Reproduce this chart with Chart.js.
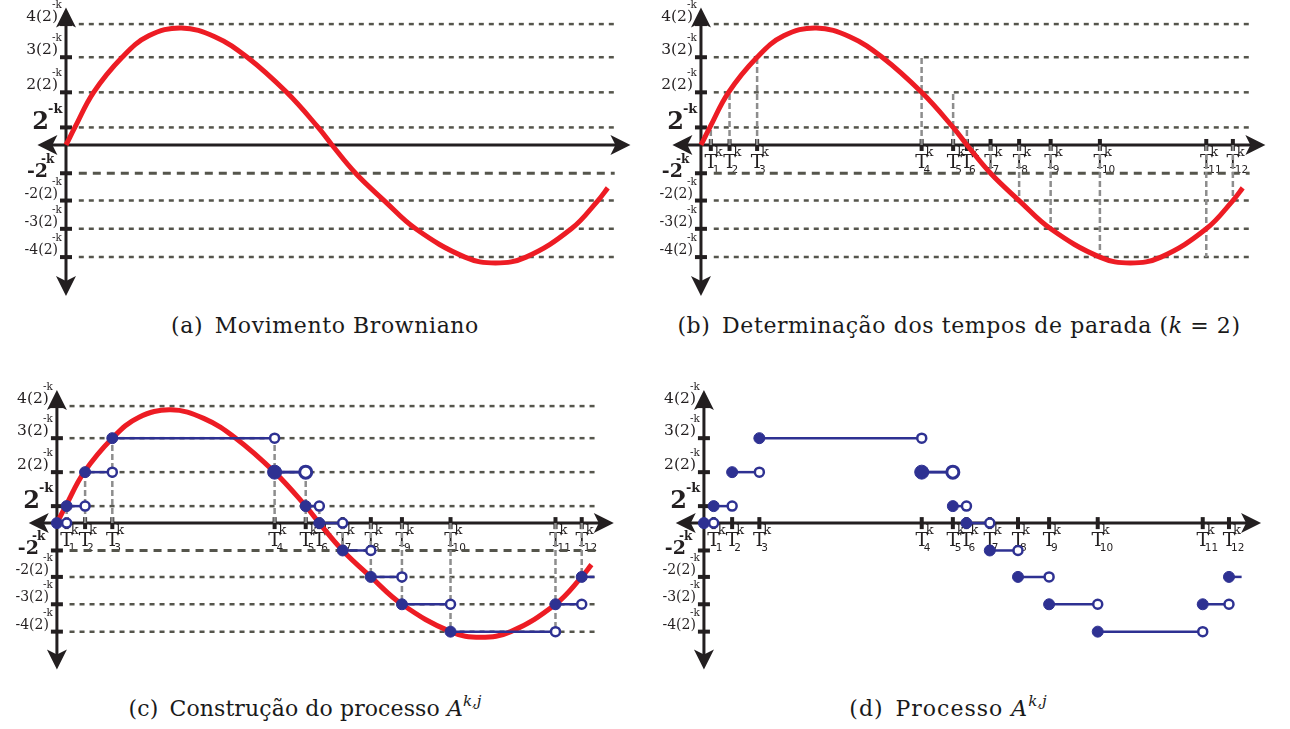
<!DOCTYPE html>
<html lang="pt">
<head>
<meta charset="UTF-8">
<title>Processo A k,j</title>
<script src="https://cdn.jsdelivr.net/npm/chart.js"></script>
<style>
    * { margin: 0; padding: 0; box-sizing: border-box; }
    body {
        width: 1290px;
        height: 729px;
        background: #fff;
        position: relative;
        overflow: hidden;
        font-family: 'DejaVu Serif', serif;
    }
    canvas { position: absolute; }
    .caption {
        position: absolute;
        font-size: 22px;
        letter-spacing: 0.6px;
        color: #1a1a1a;
        white-space: nowrap;
        transform: translateX(-50%);
    }
    .caption sup { font-size: 15px; vertical-align: 10px; line-height: 0; letter-spacing: 0; }
</style>
</head>
<body>
<canvas id="chartA" width="640" height="300" style="left:0;top:0"></canvas>
<canvas id="chartB" width="650" height="300" style="left:640px;top:0"></canvas>
<canvas id="chartC" width="640" height="320" style="left:0;top:370px"></canvas>
<canvas id="chartD" width="650" height="320" style="left:640px;top:370px"></canvas>

<div class="caption" style="left:325px;top:313px">(a)&ensp;Movimento Browniano</div>
<div class="caption" style="left:959px;top:313px">(b)&ensp;Determinação dos tempos de parada (<i>k</i> = 2)</div>
<div class="caption" style="left:305px;top:696px;letter-spacing:0.1px">(c)&ensp;Construção do processo <i>A</i><sup><i>k,j</i></sup></div>
<div class="caption" style="left:948px;top:696px;letter-spacing:1px">(d)&ensp;Processo <i>A</i><sup><i>k,j</i></sup></div>

<script>
// stopping times T_1..T_12 (time units)
const tTimes = [0.10, 0.29, 0.57, 2.24, 2.56, 2.70, 2.94, 3.23, 3.55, 4.05, 5.13, 5.40];
const tNames = ['1', '2', '3', '4', '5', '6', '7', '8', '9', '10', '11', '12'];

// levels (multiples of 2^-k) and the height at which each one is drawn
const levelMultiples = [4, 3, 2, 1, -1, -2, -3, -4];
const levelHeights = [1.24, 0.90, 0.54, 0.18, -0.29, -0.57, -0.86, -1.15];

// brownian path (red curve)
const curveT = [0, 0.09, 0.28, 0.57, 0.84, 1.17, 1.51, 1.84, 2.24, 2.56, 2.70, 2.94, 3.23, 3.55, 4.05, 4.36, 4.67, 5.13, 5.40, 5.50];
const curveY = [0, 0.18, 0.54, 0.90, 1.12, 1.20, 1.11, 0.90, 0.54, 0.18, 0, -0.29, -0.57, -0.86, -1.15, -1.21, -1.15, -0.86, -0.57, -0.44];

// value of A^{k,j} on [T_n, T_{n+1}) , n = 0..12
const stepLevels = [0, 1, 2, 3, 2, 1, 0, -1, -2, -3, -4, -3, -2];
// how far the gray dashed line at each T_n reaches
const stopReach = [1, 2, 3, 3, 2, 1, -1, -2, -3, -4, -4, -2];

const RED = '#ed1c24';
const BLUE = '#2e3192';
const INK = '#231f20';
const SERIF = "'DejaVu Serif', serif";
const SANS = "'DejaVu Sans', sans-serif";

function heightOf(m) {
    return m === 0 ? 0 : levelHeights[levelMultiples.indexOf(m)];
}

function arrow(ctx, x, y, dx, dy) {
    const L = 20, W = 10, N = 15;
    const bx = x - dx * L, by = y - dy * L;
    const px = -dy, py = dx;
    ctx.beginPath();
    ctx.moveTo(x, y);
    ctx.lineTo(bx + px * W, by + py * W);
    ctx.lineTo(x - dx * N, y - dy * N);
    ctx.lineTo(bx - px * W, by - py * W);
    ctx.closePath();
    ctx.fill();
}

function yLabel(ctx, m, x0, py) {
    ctx.textAlign = 'left';
    if (m === 1) {
        ctx.font = 'bold 24px ' + SERIF;
        const w = ctx.measureText('2').width;
        ctx.fillText('2', x0 - 17 - w, py + 2);
        ctx.font = 'bold 13px ' + SERIF;
        ctx.fillText('-k', x0 - 18, py - 14);
    } else if (m === -1) {
        ctx.font = 'bold 19px ' + SERIF;
        const w = ctx.measureText('-2').width;
        ctx.fillText('-2', x0 - 18 - w, py + 4);
        ctx.font = 'bold 12px ' + SERIF;
        ctx.fillText('-k', x0 - 25, py - 10);
    } else {
        const txt = m + '(2)';
        ctx.font = (m > 0 ? '15.5px ' : '14px ') + SERIF;
        const w = ctx.measureText(txt).width;
        const right = x0 - 8;
        ctx.fillText(txt, right - w, py - 3);
        ctx.font = '10.5px ' + SERIF;
        ctx.fillText('-k', right - 6, py - 16);
    }
}

const axesPlugin = {
    id: 'arrowAxes',
    beforeDatasetsDraw(chart, args, opts) {
        const ctx = chart.ctx;
        const xs = chart.scales.x, ys = chart.scales.y;
        const x0 = xs.getPixelForValue(0), y0 = ys.getPixelForValue(0);
        const xl = xs.getPixelForValue(-0.29), xr = xs.getPixelForValue(5.73);
        const yt = ys.getPixelForValue(1.41), yb = ys.getPixelForValue(-1.55);
        ctx.save();
        ctx.strokeStyle = INK;
        ctx.fillStyle = INK;
        ctx.lineWidth = 3;
        ctx.beginPath();
        ctx.moveTo(xl + 10, y0); ctx.lineTo(xr - 10, y0);
        ctx.moveTo(x0, yt + 10); ctx.lineTo(x0, yb - 10);
        ctx.stroke();
        arrow(ctx, xl, y0, -1, 0);
        arrow(ctx, xr, y0, 1, 0);
        arrow(ctx, x0, yt, 0, -1);
        arrow(ctx, x0, yb, 0, 1);

        levelMultiples.forEach((m, i) => {
            const py = ys.getPixelForValue(levelHeights[i]);
            ctx.fillRect(x0 - 6, py - 2, 12, 4);
            yLabel(ctx, m, x0, py);
        });

        if (opts.tMarks) {
            tTimes.forEach((t, i) => {
                const px = xs.getPixelForValue(t);
                ctx.fillRect(px - 2, y0 - 6, 4, 12);
                ctx.textAlign = 'center';
                ctx.font = '19px ' + SERIF;
                ctx.fillText('T', px, y0 + 23);
                ctx.textAlign = 'left';
                ctx.font = '13px ' + SERIF;
                ctx.fillText('k', px + 4, y0 + 11);
                ctx.font = '10.5px ' + SANS;
                ctx.fillText(tNames[i], px + 2, y0 + 28);
            });
        }
        ctx.restore();
    }
};

function buildDatasets(parts) {
    const sets = [];
    if (parts.steps) {
        stepLevels.forEach((lv, i) => {
            const last = i === stepLevels.length - 1;
            const big = i === 4;
            const x0 = i === 0 ? 0 : tTimes[i - 1];
            const x1 = last ? 5.53 : tTimes[i];
            sets.push({
                data: [{ x: x0, y: heightOf(lv) }, { x: x1, y: heightOf(lv) }],
                showLine: true,
                borderColor: BLUE,
                borderWidth: big ? 3 : 2.5,
                pointRadius: last ? [5.5, 0] : (big ? [7, 6] : [5.5, 4.5]),
                pointBackgroundColor: [BLUE, '#ffffff'],
                pointBorderColor: BLUE,
                pointBorderWidth: [1, big ? 3 : 2.5],
                order: 0
            });
        });
    }
    if (parts.curve) {
        sets.push({
            data: curveT.map((t, i) => ({ x: t, y: curveY[i] })),
            showLine: true,
            borderColor: RED,
            borderWidth: 5,
            pointRadius: 0,
            tension: 0.4,
            order: 1
        });
    }
    if (parts.stops) {
        tTimes.forEach((t, i) => {
            sets.push({
                data: [{ x: t, y: 0 }, { x: t, y: heightOf(stopReach[i]) }],
                showLine: true,
                borderColor: '#8d8d8d',
                borderWidth: 2.5,
                borderDash: [6, 3],
                pointRadius: 0,
                order: 2
            });
        });
    }
    if (parts.levels) {
        levelMultiples.forEach((m, i) => {
            sets.push({
                data: [{ x: 0.13, y: levelHeights[i] }, { x: 5.57, y: levelHeights[i] }],
                showLine: true,
                borderColor: '#55554c',
                borderWidth: m === -1 ? 3 : 2.5,
                borderDash: m === -1 ? [8, 6] : [5, 5],
                pointRadius: 0,
                order: 3
            });
        });
    }
    return sets;
}

function makeChart(id, parts, xr, yr) {
    return new Chart(document.getElementById(id), {
        type: 'scatter',
        data: { datasets: buildDatasets(parts) },
        options: {
            responsive: false,
            animation: false,
            devicePixelRatio: 1,
            events: [],
            layout: { padding: 0 },
            scales: {
                x: { type: 'linear', min: xr[0], max: xr[1], display: false },
                y: { type: 'linear', min: yr[0], max: yr[1], display: false }
            },
            plugins: {
                legend: { display: false },
                tooltip: { enabled: false },
                arrowAxes: { tMarks: parts.tMarks }
            }
        },
        plugins: [axesPlugin]
    });
}

makeChart('chartA', { curve: true, levels: true }, [-0.670, 5.827], [-1.590, 1.487]);
makeChart('chartB', { curve: true, levels: true, stops: true, tMarks: true }, [-0.619, 5.980], [-1.590, 1.487]);
makeChart('chartC', { curve: true, levels: true, stops: true, steps: true, tMarks: true }, [-0.493, 5.907], [-1.673, 1.527]);
makeChart('chartD', { steps: true, tMarks: true }, [-0.565, 5.935], [-1.673, 1.527]);
</script>
</body>
</html>
